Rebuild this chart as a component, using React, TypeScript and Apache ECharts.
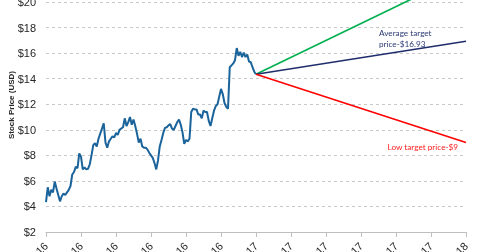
import React, { useEffect, useRef } from "react";
import * as echarts from "echarts";

// x axis: months since Jan-2016, ticks every 2 months
const tickLabels = ["Jan-16", "Mar-16", "May-16", "Jul-16", "Sep-16", "Nov-16", "Jan-17", "Mar-17", "May-17", "Jul-17", "Sep-17", "Nov-17", "Jan-18"];
const yMin = 2;
const yMaxShown = 20;
const yMaxAxis = 24; // axis runs above the visible (cropped) area so the high-target line fits

// stock price, one sample every 0.1 month from Jan-16 to Jan-17
const priceStep = 0.1;
const prices = [
  4.34, 5.5, 4.8, 5.3, 5.1, 5.95, 5.4, 4.9, 4.4, 4.8,
  5.0, 4.9, 5.1, 5.3, 5.6, 6.5, 6.7, 7.1, 7.0, 8.15,
  7.9, 6.9, 7.05, 6.9, 6.95, 7.3, 8.0, 8.8, 8.95, 8.7,
  9.3, 9.7, 10.1, 10.5, 9.0, 8.6, 9.1, 9.3, 9.5, 9.4,
  9.75, 9.6, 10.0, 10.1, 10.2, 10.9, 10.3, 10.6, 11.0, 10.4,
  10.8, 10.3, 9.7, 9.0, 9.3, 8.7, 8.6, 8.6, 8.45, 8.2,
  8.0, 7.8, 7.4, 6.9, 7.6, 8.7, 9.2, 9.75, 10.15, 10.2,
  10.35, 10.45, 10.1, 10.0, 10.3, 10.6, 10.8, 10.4, 9.8, 8.9,
  9.2, 9.1, 9.3, 11.4, 11.65, 11.6, 11.6, 11.2, 11.2, 10.9,
  11.5, 11.4, 11.4, 10.7, 10.3, 10.9, 11.5, 11.85, 12.0, 12.6,
  13.2, 12.8, 12.1, 11.8, 11.65, 14.9, 15.05, 15.2, 15.45, 16.4,
  15.8, 16.1, 15.7, 16.05, 15.7, 15.9, 15.35, 15.3, 14.9, 14.55,
  14.35,
];

const targetMonth = 24;
const highTarget = 22.3;
const avgTarget = 16.93;
const lowTarget = 9;

const avgLabel = ["Average target", "price-$16.93"];
const lowLabel = "Low target price-$9";
const yAxisTitle = "Stock Price (USD)";

const OFFSET = 60; // chart is shifted up so the top of the reference is cropped

export default function App() {
  const ref = useRef<HTMLDivElement>(null);
  useEffect(() => {
    if (!ref.current) return;
    document.body.style.overflow = "hidden";
    const chart = echarts.init(ref.current, null, { renderer: "svg" });
    const lastMonth = (prices.length - 1) * priceStep;
    const lastPrice = prices[prices.length - 1];
    const seg = (end: number, color: string) => [
      { coord: [lastMonth, lastPrice], lineStyle: { color, width: 1.6, type: "solid" } },
      { coord: [targetMonth, end], lineStyle: { color, width: 1.6, type: "solid" } },
    ];
    chart.setOption({
      animation: false,
      grid: { left: 46, right: 14, top: OFFSET + 2 - 51, bottom: 48, containLabel: false },
      xAxis: {
        type: "value",
        min: 0,
        max: targetMonth,
        interval: 2,
        axisLine: { show: true, lineStyle: { color: "#bfbfbf", width: 1 } },
        axisTick: { show: true, length: 5, lineStyle: { color: "#bfbfbf" } },
        splitLine: { show: false },
        axisLabel: {
          rotate: 45,
          margin: 12,
          fontFamily: "Liberation Sans, Arial, sans-serif",
          fontSize: 11,
          color: "#262626",
          formatter: (v: number) => tickLabels[Math.round(v / 2)] ?? "",
        },
      },
      yAxis: {
        type: "value",
        min: yMin,
        max: yMaxAxis,
        interval: 2,
        axisLine: { show: false },
        axisTick: { show: false },
        splitLine: { show: true, lineStyle: { color: "#c8c8c8", type: [3, 3], width: 1 } },
        axisLabel: {
          margin: 10,
          fontFamily: "Liberation Sans, Arial, sans-serif",
          fontSize: 11,
          color: "#262626",
          formatter: (v: number) => (v > yMaxShown ? "" : "$" + v),
        },
      },
      series: [
        {
          type: "line",
          data: prices.map((p, i) => [i * priceStep, p]),
          showSymbol: false,
          symbol: "none",
          lineStyle: { color: "#1a639b", width: 2 },
          silent: true,
          markLine: {
            silent: true,
            symbol: ["none", "arrow"],
            symbolSize: [0, 8],
            label: { show: false },
            emphasis: { disabled: true },
            data: [seg(highTarget, "#00b050"), seg(avgTarget, "#1f2d6b"), seg(lowTarget, "#ff0000")],
          },
        },
      ],
      graphic: [
        {
          type: "text",
          x: 11,
          y: OFFSET + 105,
          rotation: Math.PI / 2,
          style: {
            text: yAxisTitle,
            fontFamily: "Liberation Sans, Arial, sans-serif",
            fontWeight: "bold",
            fontSize: 8,
            fill: "#262626",
            align: "center",
            verticalAlign: "middle",
          },
        },
        {
          type: "text",
          x: 379,
          y: OFFSET + 28,
          style: {
            text: avgLabel.join("\n"),
            fontFamily: "Lato, sans-serif",
            fontSize: 8.2,
            lineHeight: 10.5,
            fill: "#2b3a74",
            align: "left",
            verticalAlign: "top",
          },
        },
        {
          type: "text",
          x: 458,
          y: OFFSET + 147,
          style: {
            text: lowLabel,
            fontFamily: "Lato, sans-serif",
            fontSize: 8.2,
            fill: "#ff2020",
            align: "right",
            verticalAlign: "middle",
          },
        },
      ],
    });
    return () => chart.dispose();
  }, []);
  return (
    <div
      ref={ref}
      style={{ position: "fixed", left: 0, top: -OFFSET, width: 480, height: 340 }}
    />
  );
}
